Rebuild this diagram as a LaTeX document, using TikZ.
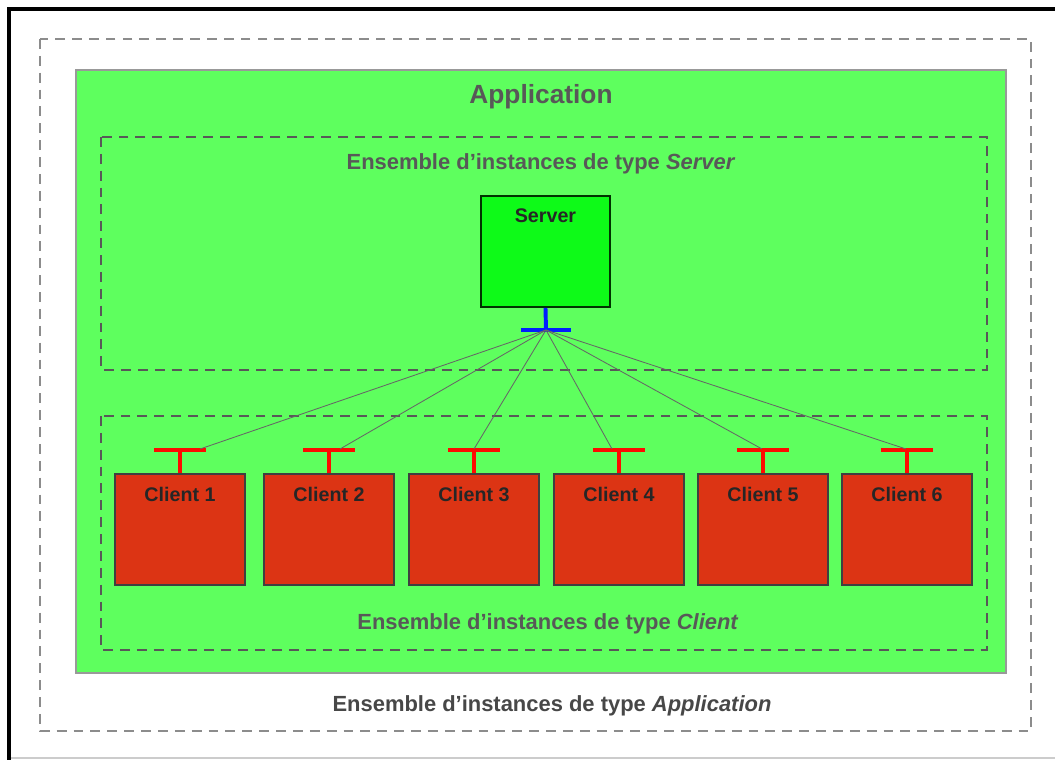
\documentclass[tikz,border=0pt]{standalone}
\usepackage{fontspec}
\setmainfont{Liberation Sans}
\usetikzlibrary{positioning}
\definecolor{appgreen}{RGB}{94,255,94}
\definecolor{srvgreen}{RGB}{14,250,24}
\definecolor{clired}{RGB}{220,52,20}
\definecolor{setgray}{RGB}{88,88,88}
\definecolor{plugblue}{RGB}{0,30,255}
\definecolor{plugred}{RGB}{255,10,0}

\begin{document}
\begin{tikzpicture}[x=0.025cm, y=-0.025cm,
        setbox/.style={draw=setgray, line width=1.3pt, dash pattern=on 7pt off 5pt},
        settext/.style={text=setgray, font=\fontsize{15.6}{18}\selectfont\bfseries},
        boxtext/.style={font=\fontsize{14}{16}\selectfont\bfseries, text=black!85},
        client/.style={draw=black!75, line width=1.2pt, fill=clired, minimum width=3.25cm, minimum height=2.775cm, inner sep=0pt},
        plug/.style={line width=2.8pt},
        wire/.style={draw=black!60, line width=0.6pt}]
        \useasboundingbox (0,0) rectangle (1055,760);
        % frame
        \draw[black!20, line width=0.8pt] (9,758) -- (1055,758);
        \draw[line width=2.2pt] (9,765) -- (9,9) -- (1060,9);

        % sets
        \draw[setbox, draw=black!45] (40,39) rectangle (1031,731);
        \draw[fill=appgreen, draw=black!40, line width=0.8pt] (76,70) rectangle (1006,673);
        \draw[setbox] (101,137) rectangle (987,370);
        \draw[setbox] (101,416) rectangle (987,650);

        \node[text=setgray, font=\fontsize{18.7}{22}\selectfont\bfseries] (app) at (541,97) {Application};
        \node[settext] (srvset) at (541,164) {Ensemble d’instances de type \textit{Server}};
        \node[settext] (cliset) at (548,624) {Ensemble d’instances de type \textit{Client}};
        \node[settext, text=black!72] (appset) at (552,706) {Ensemble d’instances de type \textit{Application}};

        % server
        \node[client, fill=srvgreen, draw=green!20!black, minimum width=3.225cm,
            label={[boxtext, anchor=center, yshift=-0.52cm]north:Server}] (srv) at (545.5,251.5) {};
        \coordinate (sT) at (546,330);
        \draw[plug, plugblue] (srv.south) -- (sT);
        \draw[plug, plugblue] ([xshift=-0.625cm]sT) -- ([xshift=0.625cm]sT);

        % clients
        \foreach \i/\x/\w in {1/180/200, 2/329/340, 3/474/474, 4/619/612, 5/763/762, 6/907/906} {
            \node[client, label={[boxtext, anchor=center, yshift=-0.53cm]north:Client \i}] (c\i) at (\x,529.5) {};
            \coordinate (t\i) at (\x,450);
            \coordinate (w\i) at (\w,449);
            \draw[plug, plugred] (c\i.north) -- (t\i);
            \draw[plug, plugred] ([xshift=-0.65cm]t\i) -- ([xshift=0.65cm]t\i);
            \draw[wire] (sT) -- (w\i);
        }
    \end{tikzpicture}
\end{document}
